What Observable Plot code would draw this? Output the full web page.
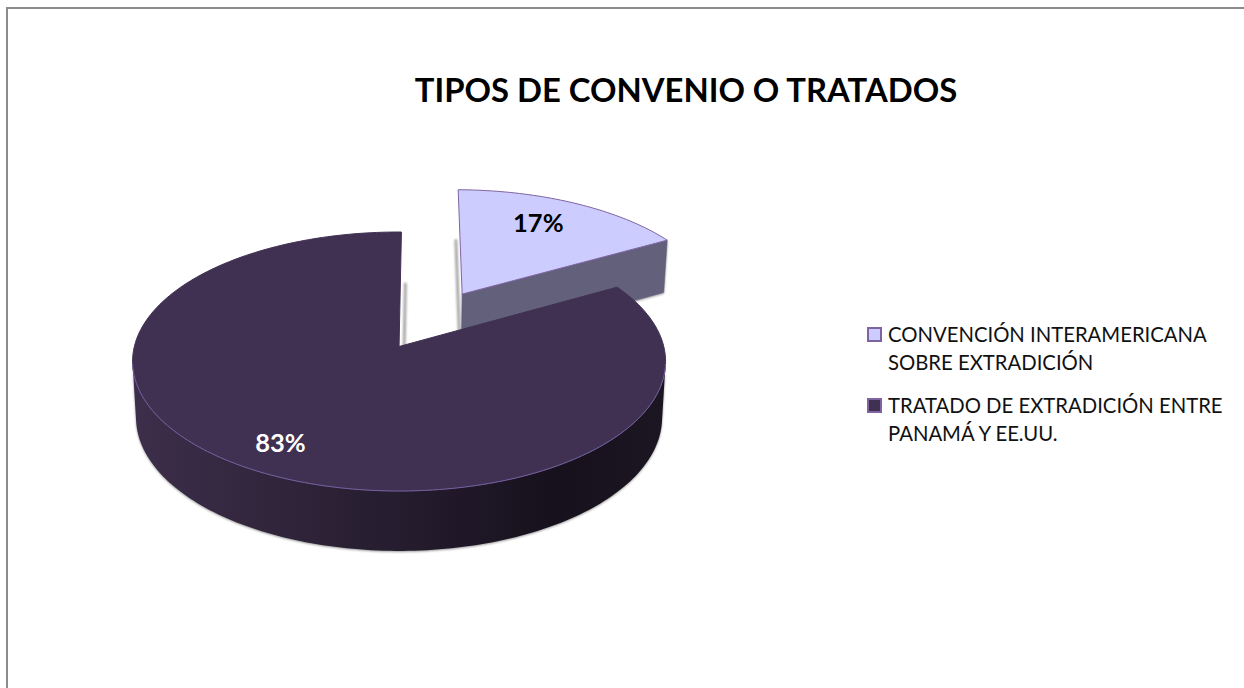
<!DOCTYPE html>
<html><head><meta charset="utf-8">
<script src="https://cdn.jsdelivr.net/npm/d3@7"></script>
<script src="https://cdn.jsdelivr.net/npm/@observablehq/plot@0.6"></script>
<style>
html,body{margin:0;padding:0;background:#fff}
#page{position:relative;width:1244px;height:688px;overflow:hidden;font-family:Lato,"Open Sans",sans-serif}
#frame{position:absolute;left:6px;top:7px;width:1238px;height:681px;border-left:2px solid #8c8c8c;border-top:2px solid #8c8c8c;box-sizing:border-box}
#title{position:absolute;left:300px;width:772px;top:70px;text-align:center;font-size:32.8px;font-weight:700;color:#000;line-height:40px;white-space:nowrap}
#chart{position:absolute;left:0;top:130px}
#legend{position:absolute;left:867px;top:320px;font-size:20.3px;line-height:28px;color:#111}
.it{position:relative;padding-left:21px;margin-bottom:15px;white-space:nowrap}
.sw{position:absolute;left:0;top:6.5px;width:15px;height:15px;box-sizing:border-box;border:2px solid #8064a2}
.shadow{filter:drop-shadow(0 1px 1px #999)}
.blur{filter:blur(1px)}
</style></head><body>
<div id="page"><div id="frame"></div>
<div id="title">TIPOS DE CONVENIO O TRATADOS</div>
<div id="chart"></div><div id="legend"></div></div>
<script>
const categories = ["CONVENCIÓN INTERAMERICANA\nSOBRE EXTRADICIÓN", "TRATADO DE EXTRADICIÓN ENTRE\nPANAMÁ Y EE.UU."];
const counts = [1, 5];
const topColors = ["#ccccff", "#403152"];
const labelColors = ["#000000", "#ffffff"];

const W = 1244, H = 558, offY = 130;
const cx = 397.5, cy = 361 - offY, rx = 266.5, ry = 129.5;
const k = 0.116, explode = 0.5, depth = 56, depthRatio = 1.03, botRatio = 0.987;
const rotation = 0.6 * Math.PI / 180;
const mainShift = 0.004;
const labelR = [0.73, 0.81];
const labelTurn = [-2.7 * Math.PI / 180, 0];

// Disk -> picture units: perspective tilt preserving the unit circle
const tilt = (u, v) => { const d = 1 + k * v; return [u * Math.sqrt(1 - k * k) / d, (v + k) / d]; };
const topP = (u, v) => tilt(u, v);
const botP = (u, v) => { const [X, Y] = tilt(u, v); return [X * botRatio, Y * depthRatio - depth / ry]; };
const polar = (a, r = 1) => [r * Math.sin(a), r * Math.cos(a)];

const total = d3.sum(counts);
let acc = 0;
const slices = counts.map((s, i) => {
  const a0 = rotation + acc / total * 2 * Math.PI; acc += s;
  const a1 = rotation + acc / total * 2 * Math.PI; const mid = (a0 + a1) / 2;
  const D = i === 0 ? polar(mid, explode) : [mainShift, 0];
  const n = Math.max(16, Math.round(s / total * 300));
  const arc = d3.range(n + 1).map(j => a0 + (a1 - a0) * j / n);
  return {i, a0, a1, mid, D, arc};
});
const P = (f, s, a, r = 1) => { const [u, v] = polar(a, r); return f(u + s.D[0], v + s.D[1]); };
const pt = (z, [x, y]) => ({z, x, y});

const small = slices[0], main = slices[1];
const topFaces = slices.map(s => [pt(s.i, P(topP, s, 0, 0)), ...s.arc.map(a => pt(s.i, P(topP, s, a))), pt(s.i, P(topP, s, 0, 0))]);
// cut wall of the exploded slice
const smallWall = [
  pt(0, P(topP, small, 0, 0)), pt(0, P(topP, small, small.a1)),
  pt(0, P(botP, small, small.a1)), pt(0, P(botP, small, 0, 0)), pt(0, P(topP, small, 0, 0))
];
// front rim of the large slice
const front = main.arc.filter(a => Math.cos(a) <= -k);
const mainWall = [
  ...front.map(a => pt(1, P(topP, main, a))),
  ...front.slice().reverse().map(a => pt(1, P(botP, main, a)))
];
mainWall.push(mainWall[0]);
const frontEdge = front.map(a => pt(1, P(topP, main, a)));
// faint cast edges at the floor level of both cuts
const smallCast = [pt(0, P(botP, small, small.a0)), pt(0, P(botP, small, 0, 0))];
const mainCast = [pt(1, P(botP, main, main.a1)), pt(1, P(botP, main, 0, 0))];

const labels = slices.map(s => {
  const [x, y] = P(topP, s, s.mid + labelTurn[s.i], labelR[s.i]);
  return {x, y, text: Math.round(counts[s.i] / total * 100) + "%", color: labelColors[s.i]};
});

const gradient = () => {
  const svg = d3.create("svg:defs");
  const g = svg.append("linearGradient").attr("id", "wallGrad").attr("gradientUnits", "objectBoundingBox");
  [[0, "#3d2e4b"], [0.3, "#2f2439"], [0.55, "#231a2c"], [0.8, "#16111c"], [1, "#1c1622"]].forEach(([o, c]) =>
    g.append("stop").attr("offset", o).attr("stop-color", c));
  return svg.node();
};

const plot = Plot.plot({
  width: W, height: H, margin: 0, axis: null,
  x: {domain: [-cx / rx, (W - cx) / rx], range: [0, W]},
  y: {domain: [(cy - H) / ry, cy / ry], range: [H, 0]},
  marks: [
    gradient,
    Plot.line(smallCast, {x: "x", y: "y", stroke: "#a8a8a8", strokeWidth: 3, dx: -1.5, className: "blur"}),
    Plot.line(mainCast, {x: "x", y: "y", stroke: "#a8a8a8", strokeWidth: 3, dx: 4, className: "blur"}),
    // exploded slice: wall then top
    Plot.line(smallWall, {x: "x", y: "y", fill: "#62607a", stroke: "#62607a", strokeWidth: 0.5, className: "shadow"}),
    Plot.line(topFaces[0], {x: "x", y: "y", fill: topColors[0], stroke: "#8064a2", strokeWidth: 1}),
    // large slice
    Plot.line(mainWall, {x: "x", y: "y", fill: "url(#wallGrad)", stroke: "none", className: "shadow"}),
    Plot.line(topFaces[1], {x: "x", y: "y", fill: topColors[1], stroke: topColors[1], strokeWidth: 1}),
    Plot.line(frontEdge, {x: "x", y: "y", stroke: "#7460a0", strokeWidth: 1}),
    Plot.text(labels, {x: "x", y: "y", text: "text", fill: "color", fontSize: 25.5, fontWeight: 700, fontFamily: "Lato, sans-serif"})
  ]
});
document.getElementById("chart").appendChild(plot);

const legend = d3.select("#legend");
categories.forEach((c, i) => {
  const it = legend.append("div").attr("class", "it");
  it.append("span").attr("class", "sw").style("background", topColors[i]);
  c.split("\n").forEach(l => it.append("div").text(l));
});
</script></body></html>
